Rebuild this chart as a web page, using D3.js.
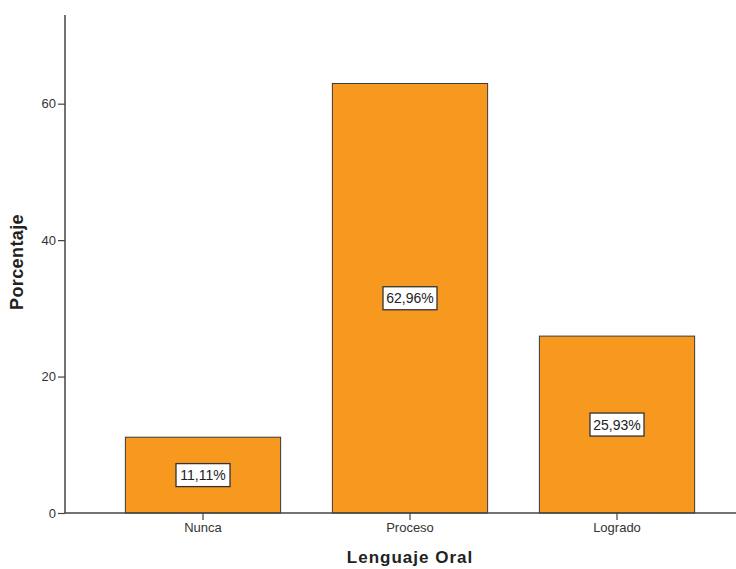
<!DOCTYPE html>
<meta charset="utf-8">
<script src="https://d3js.org/d3.v7.min.js"></script>
<style>
  body { margin: 0; background: #fff; }
  text { font-family: Arial, "Liberation Sans", sans-serif; }
</style>
<div id="chart"></div>
<script>
var categories = ["Nunca", "Proceso", "Logrado"];
var values = [11.11, 62.96, 25.93];
var valueLabels = ["11,11%", "62,96%", "25,93%"];
var yTicks = [0, 20, 40, 60];

var width = 736, height = 569;
var margin = { top: 15, right: 0, bottom: 56, left: 65 };

var svg = d3.select("#chart")
    .append("svg")
    .attr("width", width)
    .attr("height", height);

var x = d3.scaleBand()
    .domain(categories)
    .range([99.5, 720.5])
    .paddingInner(0.25)
    .paddingOuter(0.125);

var y = d3.scaleLinear()
    .domain([0, 73])
    .range([height - margin.bottom, margin.top]);

// bars
svg.append("g")
    .selectAll("rect")
    .data(values)
    .enter().append("rect")
    .attr("x", function(d, i) { return x(categories[i]); })
    .attr("y", function(d) { return y(d); })
    .attr("width", x.bandwidth())
    .attr("height", function(d) { return y(0) - y(d); })
    .attr("fill", "#f7991f")
    .attr("stroke", "#3a3a3a")
    .attr("stroke-width", 1);

// y axis
var yAxis = svg.append("g")
    .attr("transform", "translate(" + margin.left + ",0)")
    .call(d3.axisLeft(y).tickValues(yTicks).tickSize(7).tickSizeOuter(0));
yAxis.select(".domain").attr("stroke", "#444").attr("stroke-width", 1.5)
    .attr("d", "M0," + y(0) + "V" + margin.top);
yAxis.selectAll(".tick line").attr("stroke", "#444").attr("stroke-width", 1.2);
yAxis.selectAll(".tick text").attr("fill", "#333").style("font-size", "13px")
    .style("font-family", "Arial, 'Liberation Sans', sans-serif").attr("x", -9);

// x axis
var xAxis = svg.append("g")
    .attr("transform", "translate(0," + y(0) + ")")
    .call(d3.axisBottom(x).tickSize(7).tickSizeOuter(0));
xAxis.select(".domain").attr("stroke", "#444").attr("stroke-width", 1.5)
    .attr("d", "M" + margin.left + ",0H" + width);
xAxis.selectAll(".tick line").attr("stroke", "#444").attr("stroke-width", 1.2);
xAxis.selectAll(".tick text").attr("fill", "#333").style("font-size", "13px")
    .style("font-family", "Arial, 'Liberation Sans', sans-serif").attr("y", 10);

// value labels
var lab = svg.append("g")
    .selectAll("g")
    .data(values)
    .enter().append("g")
    .attr("transform", function(d, i) {
        return "translate(" + (x(categories[i]) + x.bandwidth() / 2) + "," + y(d / 2) + ")";
    });
lab.append("rect")
    .attr("x", -27).attr("y", -11.5)
    .attr("width", 54).attr("height", 23)
    .attr("fill", "#fff")
    .attr("stroke", "#333")
    .attr("stroke-width", 1.3);
lab.append("text")
    .attr("text-anchor", "middle")
    .attr("dy", "0.36em")
    .attr("fill", "#222")
    .style("font-size", "14px")
    .text(function(d, i) { return valueLabels[i]; });

// axis titles
svg.append("text")
    .attr("transform", "translate(23," + 262 + ") rotate(-90)")
    .attr("text-anchor", "middle")
    .attr("fill", "#222")
    .style("font-size", "18px")
    .style("font-weight", "bold")
    .style("letter-spacing", "0.4px")
    .text("Porcentaje");

svg.append("text")
    .attr("x", 410)
    .attr("y", 563)
    .attr("text-anchor", "middle")
    .attr("fill", "#222")
    .style("font-size", "17px")
    .style("font-weight", "bold")
    .style("letter-spacing", "1px")
    .text("Lenguaje Oral");
</script>
